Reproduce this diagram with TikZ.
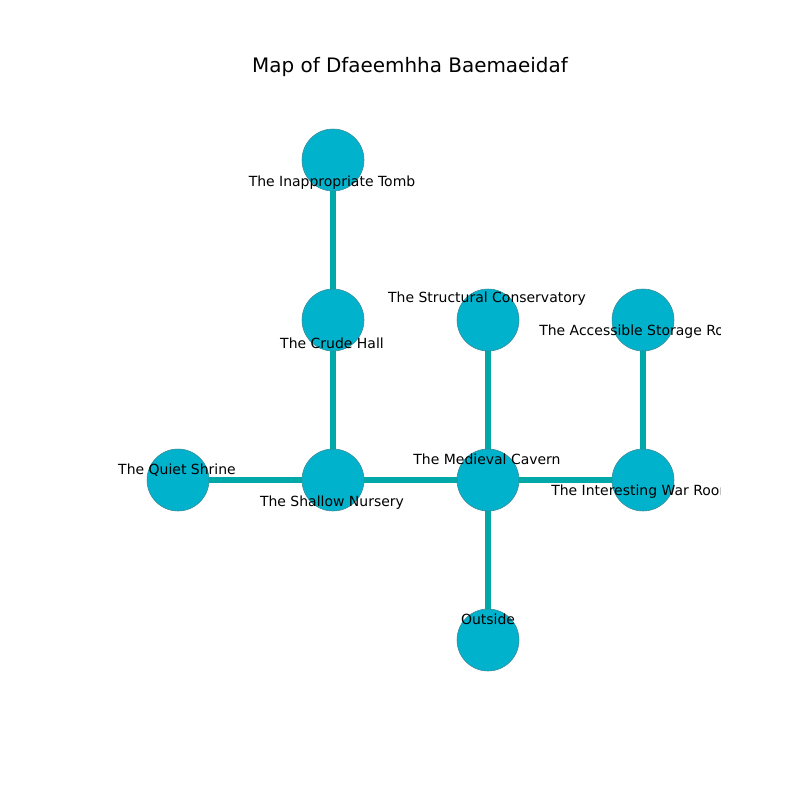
\documentclass[tikz,border=0pt]{standalone}
\usepackage{fontspec}
\setmainfont{DejaVu Sans}
\definecolor{roomfill}{HTML}{00B2CC}
\definecolor{roomedge}{HTML}{3A8A96}
\definecolor{pathcol}{HTML}{00A8A8}
\tikzset{
  room/.style={circle, fill=roomfill, draw=roomedge, line width=0.4pt, minimum size=44.8pt, inner sep=0pt},
  passage/.style={draw=pathcol, line width=4.3pt},
  lbl/.style={font=\fontsize{10.1}{12}\selectfont, inner sep=0pt, text=black},
}
\begin{document}
\begin{tikzpicture}[x=0.7227pt, y=-0.7227pt]
\useasboundingbox (0,0) rectangle (800,800);
\node[font=\fontsize{14.4}{17}\selectfont] (title) at (410,67) {Map of Dfaeemhha Baemaeidaf};
% node positions
\coordinate (pT) at (333,160);
\coordinate (pC) at (333,320);
\coordinate (pS) at (488,320);
\coordinate (pA) at (643,320);
\coordinate (pQ) at (178,480);
\coordinate (pN) at (333,480);
\coordinate (pM) at (488,480);
\coordinate (pW) at (643,480);
\coordinate (pO) at (488,640);
% edges
\draw[passage] (pT) -- (pC);
\draw[passage] (pC) -- (pN);
\draw[passage] (pQ) -- (pN);
\draw[passage] (pN) -- (pM);
\draw[passage] (pM) -- (pS);
\draw[passage] (pM) -- (pW);
\draw[passage] (pW) -- (pA);
\draw[passage] (pM) -- (pO);
% rooms
\node[room] (tomb) at (pT) {};
\node[room] (crude) at (pC) {};
\node[room] (cons) at (pS) {};
\node[room] (stor) at (pA) {};
\node[room] (quiet) at (pQ) {};
\node[room] (nurs) at (pN) {};
\node[room] (cav) at (pM) {};
\node[room] (war) at (pW) {};
\node[room] (out) at (pO) {};
% labels
\begin{scope}
\clip (0,0) rectangle (720,800);
\node[lbl] (ltomb) at (332,183) {The Inappropriate Tomb};
\node[lbl] (lcons) at (487,299) {The Structural Conservatory};
\node[lbl, anchor=west] (lstor) at (539,332) {The Accessible Storage Room};
\node[lbl] (lcrude) at (332,343) {The Crude Hall};
\node[lbl] (lquiet) at (177,470) {The Quiet Shrine};
\node[lbl] (lnurs) at (332,503) {The Shallow Nursery};
\node[lbl] (lcav) at (487,459) {The Medieval Cavern};
\node[lbl, anchor=west] (lwar) at (551,492) {The Interesting War Room};
\node[lbl] (lout) at (488,619) {Outside};
\end{scope}
\end{tikzpicture}
\end{document}
